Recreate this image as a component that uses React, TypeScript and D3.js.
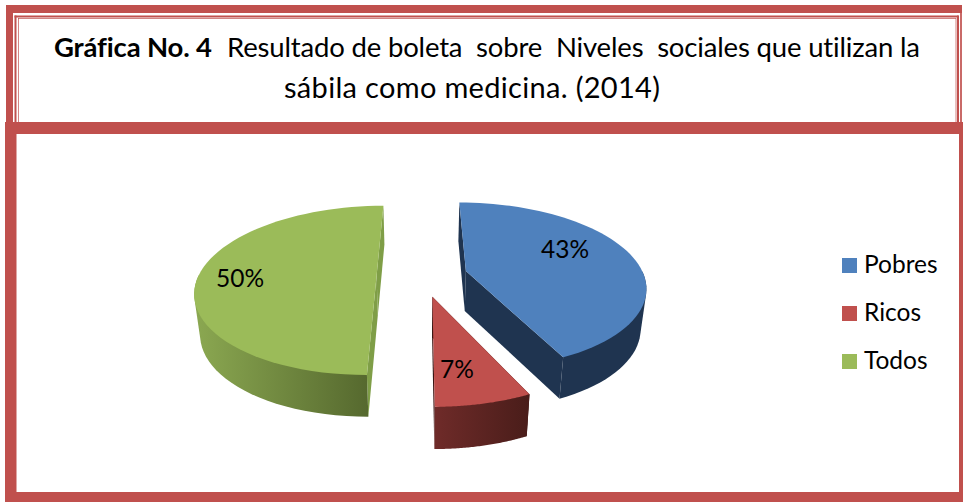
import React from "react";
import * as d3 from "d3";

const categories = ["Pobres", "Ricos", "Todos"];
const shares = [43, 7, 50];
const labels = ["43%", "7%", "50%"];
const topColors = ["#4f81bd", "#c0504d", "#9bbb59"];
const wallLeft = ["#1f3450", "#6f2b29", "#8ba851"];
const wallRight = ["#1f3450", "#4a1d1a", "#55682e"];
const cutColors = ["#1f3450", "#3a1513", "#7f9e47"];
const FONT = "Lato, Carlito, 'Open Sans', sans-serif";
const FRAME = "#c0504d";

const W = 963, H = 502;
const cx = 422, cy = 275.5, rx = 178, ry = 82, persp = 0.176, explode = 0.255;

type P = { x: number; y: number; s: number };
const project = (u: number, v: number): P => {
  const s = 1 / (1 - persp * v);
  return { x: cx + rx * u * s, y: cy + ry * v * s, s };
};
const drop = (p: P) => ({ x: cx + (p.x - cx) * 0.974, y: p.y + 32 + 8 * p.s, s: p.s });
const line = d3.line<{ x: number; y: number }>().x((d) => d.x).y((d) => d.y);

const arcs = d3.pie<number>().sort(null).value((d) => d)(shares);
const color = d3.scaleOrdinal<string, string>().domain(categories).range(topColors);
const legendY = d3.scalePoint<string>().domain(categories).range([265.5, 361.5]);

const slices = arcs.map((a, i) => {
  const mid = (a.startAngle + a.endAngle) / 2;
  const ou = explode * Math.sin(mid), ov = -explode * Math.cos(mid);
  const apex = project(ou, ov);
  const steps = d3.range(0, 61).map((k) => a.startAngle + ((a.endAngle - a.startAngle) * k) / 60);
  const rim = steps.map((t) => project(ou + Math.sin(t), ov - Math.cos(t)));
  const rimFront = rim.filter((_, k) => -Math.cos(steps[k]) > -0.02);
  const hull = d3.polygonHull([...rimFront, ...rimFront.map(drop)].map((p) => [p.x, p.y] as [number, number]))!;
  const first = rim[0], last = rim[rim.length - 1];
  return {
    i,
    top: line([apex, ...rim]) + "Z",
    wall: "M" + hull.map((p) => p.join(",")).join("L") + "Z",
    cutA: line([apex, first, drop(first), drop(apex)]) + "Z",
    cutB: line([apex, last, drop(last), drop(apex)]) + "Z",
    x0: d3.min(rim, (d) => d.x)!,
    x1: d3.max(rim, (d) => d.x)!,
  };
});

const labelPos = [[565, 258], [457, 378], [240, 287]];

const band = (x: number, y: number, w: number, h: number, o = 1) => (
  <rect x={x} y={y} width={w} height={h} fill={FRAME} opacity={o} />
);

const titleStyle: React.CSSProperties = { whiteSpace: "pre", fontVariantLigatures: "none" };

export default function App() {
  return (
    <svg width={W} height={H} viewBox={`0 0 ${W} ${H}`} style={{ position: "absolute", left: 0, top: 0, display: "block", background: "#fff" }}>
      <defs>
        {slices.map((s) => {
          const [x0, x1] = s.i === 2 ? [195, 370] : s.i === 1 ? [434, 528] : [s.x0, s.x1];
          return (
            <linearGradient key={s.i} id={`wall${s.i}`} gradientUnits="userSpaceOnUse" x1={x0} x2={x1} y1={0} y2={0}>
              <stop offset="0" stopColor={wallLeft[s.i]} />
              <stop offset="1" stopColor={wallRight[s.i]} />
            </linearGradient>
          );
        })}
      </defs>

      {/* upper frame */}
      {band(6, 5, 956, 8)}
      {band(6, 5, 7, 122)}
      {band(960, 13, 2, 112, 0.85)}
      {band(14.5, 15.5, 944, 2)}
      {band(14.5, 15.5, 2, 108)}
      {band(957, 15.5, 2, 108)}
      {band(18, 18, 938, 1, 0.7)}
      {band(18, 18, 1, 105, 0.7)}
      {band(955.5, 18, 1, 105, 0.7)}
      {/* lower frame */}
      {band(5, 122, 958, 12)}
      {band(5, 126, 11.5, 376)}
      {band(959, 122, 4, 380)}
      {band(5, 492, 958, 10)}

      {/* title */}
      <g fontFamily={FONT} fill="#000" style={titleStyle}>
        <text x={54} y={57} fontSize={27.5} fontWeight={700} textLength={158} lengthAdjust="spacing" xmlSpace="preserve" style={titleStyle}>Gráfica No. 4</text>
        <text x={227} y={57} fontSize={27.5} textLength={693} lengthAdjust="spacing" xmlSpace="preserve" style={titleStyle}>{"Resultado de boleta  sobre  Niveles  sociales que utilizan la"}</text>
        <text x={284} y={98} fontSize={29} textLength={376} lengthAdjust="spacing" xmlSpace="preserve" style={titleStyle}>sábila como medicina. (2014)</text>
      </g>

      {/* pie */}
      {slices.map((s) => (
        <g key={s.i}>
          <path d={s.cutA} fill={cutColors[s.i]} />
          <path d={s.cutB} fill={cutColors[s.i]} />
          <path d={s.wall} fill={`url(#wall${s.i})`} />
          <path d={s.top} fill={color(categories[s.i])} />
        </g>
      ))}
      {labels.map((t, i) => (
        <text key={t} x={labelPos[i][0]} y={labelPos[i][1]} textAnchor="middle" fontFamily={FONT} fontSize={24.5} fill="#000">{t}</text>
      ))}

      {/* legend */}
      {categories.map((c) => (
        <g key={c}>
          <rect x={842} y={legendY(c)! - 7.5} width={15} height={15} fill={color(c)} />
          <text x={864} y={legendY(c)! + 7.5} fontFamily={FONT} fontSize={24.5} fill="#000">{c}</text>
        </g>
      ))}
    </svg>
  );
}
